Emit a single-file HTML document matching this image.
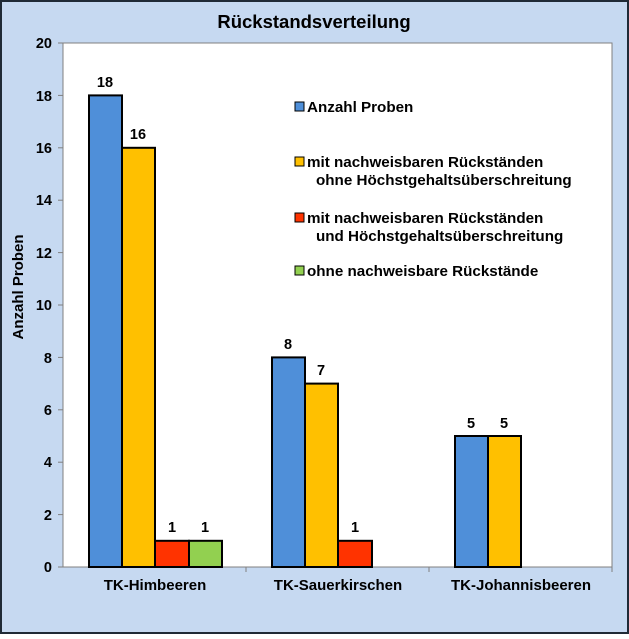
<!DOCTYPE html><html><head><meta charset="utf-8"><style>body{margin:0}</style></head><body>
<svg width="629" height="634" xmlns="http://www.w3.org/2000/svg" font-family="Liberation Sans, Arial, sans-serif" font-weight="bold">
<rect x="1" y="1" width="627" height="632" fill="#c6d9f1" stroke="#1f2a36" stroke-width="2"/>
<text x="314" y="28" text-anchor="middle" font-size="18.5">Rückstandsverteilung</text>
<rect x="63" y="43" width="549" height="524" fill="#fff" stroke="#808080" stroke-width="1"/>
<g font-size="14.5" text-anchor="end">
<text x="52" y="48">20</text><text x="52" y="101">18</text><text x="52" y="153">16</text><text x="52" y="205">14</text><text x="52" y="258">12</text><text x="52" y="310">10</text><text x="52" y="363">8</text><text x="52" y="415">6</text><text x="52" y="467">4</text><text x="52" y="520">2</text><text x="52" y="572">0</text>
</g>
<g stroke="#808080"><line x1="63" y1="43" x2="63" y2="567"/><line x1="63" y1="567" x2="612" y2="567"/>
<line x1="58" y1="43" x2="63" y2="43"/><line x1="58" y1="95.4" x2="63" y2="95.4"/><line x1="58" y1="147.8" x2="63" y2="147.8"/><line x1="58" y1="200.2" x2="63" y2="200.2"/><line x1="58" y1="252.6" x2="63" y2="252.6"/><line x1="58" y1="305" x2="63" y2="305"/><line x1="58" y1="357.4" x2="63" y2="357.4"/><line x1="58" y1="409.8" x2="63" y2="409.8"/><line x1="58" y1="462.2" x2="63" y2="462.2"/><line x1="58" y1="514.6" x2="63" y2="514.6"/><line x1="58" y1="567" x2="63" y2="567"/>
<line x1="246" y1="567" x2="246" y2="572"/><line x1="429" y1="567" x2="429" y2="572"/><line x1="612" y1="567" x2="612" y2="572"/></g>
<text transform="translate(23,287) rotate(-90)" text-anchor="middle" font-size="15">Anzahl Proben</text>
<g stroke="#000" stroke-width="2">
<rect x="89" y="95.4" width="33" height="471.6" fill="#4f8fd9"/>
<rect x="122" y="147.8" width="33" height="419.2" fill="#ffc000"/>
<rect x="155" y="540.8" width="34" height="26.2" fill="#ff3300"/>
<rect x="189" y="540.8" width="33" height="26.2" fill="#92d050"/>
<rect x="272" y="357.4" width="33" height="209.6" fill="#4f8fd9"/>
<rect x="305" y="383.6" width="33" height="183.4" fill="#ffc000"/>
<rect x="338" y="540.8" width="34" height="26.2" fill="#ff3300"/>
<rect x="455" y="436" width="33" height="131" fill="#4f8fd9"/>
<rect x="488" y="436" width="33" height="131" fill="#ffc000"/>
</g>
<g font-size="14.5" text-anchor="middle">
<text x="105" y="87">18</text><text x="138" y="139">16</text><text x="172" y="532">1</text><text x="205" y="532">1</text>
<text x="288" y="349">8</text><text x="321" y="375">7</text><text x="355" y="532">1</text>
<text x="471" y="428">5</text><text x="504" y="428">5</text>
</g>
<g font-size="15" text-anchor="middle">
<text x="155" y="590">TK-Himbeeren</text><text x="338" y="590">TK-Sauerkirschen</text><text x="521" y="590">TK-Johannisbeeren</text>
</g>
<g font-size="15.2">
<rect x="295" y="102" width="9" height="9" fill="#4f8fd9" stroke="#000"/><text x="307" y="112">Anzahl Proben</text>
<rect x="295" y="157" width="9" height="9" fill="#ffc000" stroke="#000"/><text x="307" y="167">mit nachweisbaren Rückständen</text><text x="316" y="185">ohne Höchstgehaltsüberschreitung</text>
<rect x="295" y="213" width="9" height="9" fill="#ff3300" stroke="#000"/><text x="307" y="223">mit nachweisbaren Rückständen</text><text x="316" y="241">und Höchstgehaltsüberschreitung</text>
<rect x="295" y="266" width="9" height="9" fill="#92d050" stroke="#000"/><text x="307" y="276">ohne nachweisbare Rückstände</text>
</g>
</svg></body></html>
